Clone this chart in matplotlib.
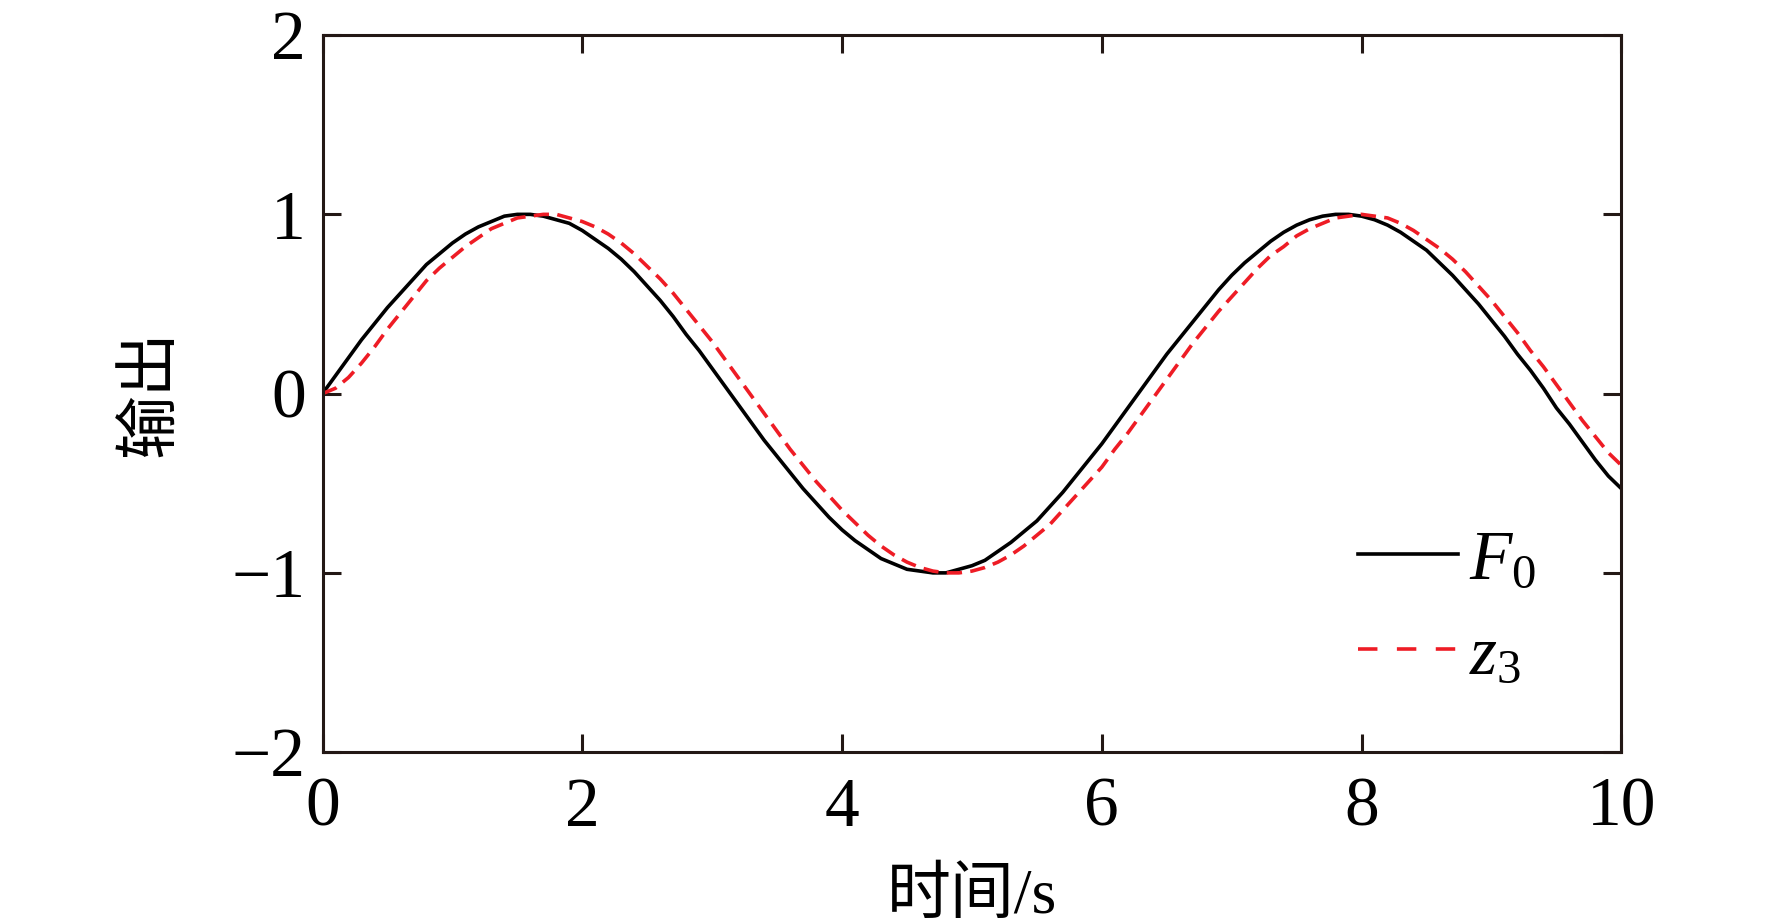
import matplotlib
matplotlib.use("Agg")
import matplotlib.pyplot as plt
import numpy as np

# time axis, values read every 0.1 s from the reference
t = np.round(np.arange(0, 10.001, 0.1), 1)

F0 = [0.00, 0.10, 0.20, 0.30, 0.39, 0.48, 0.56, 0.64, 0.72, 0.78,
      0.84, 0.89, 0.93, 0.96, 0.99, 1.00, 1.00, 0.99, 0.97, 0.95,
      0.91, 0.86, 0.81, 0.75, 0.68, 0.60, 0.52, 0.43, 0.33, 0.24,
      0.14, 0.04, -0.06, -0.16, -0.26, -0.35, -0.44, -0.53, -0.61, -0.69,
      -0.76, -0.82, -0.87, -0.92, -0.95, -0.98, -0.99, -1.00, -1.00, -0.98,
      -0.96, -0.93, -0.88, -0.83, -0.77, -0.71, -0.63, -0.55, -0.46, -0.37,
      -0.28, -0.18, -0.08, 0.02, 0.12, 0.22, 0.31, 0.40, 0.49, 0.58,
      0.66, 0.73, 0.79, 0.85, 0.90, 0.94, 0.97, 0.99, 1.00, 1.00,
      0.99, 0.97, 0.94, 0.90, 0.85, 0.80, 0.73, 0.66, 0.58, 0.50,
      0.41, 0.32, 0.22, 0.13, 0.03, -0.08, -0.17, -0.27, -0.37, -0.46,
      -0.53]

z3 = [0.00, 0.03, 0.09, 0.17, 0.26, 0.36, 0.45, 0.54, 0.63, 0.70,
      0.76, 0.82, 0.87, 0.92, 0.95, 0.98, 0.99, 1.00, 1.00, 0.98,
      0.96, 0.93, 0.89, 0.84, 0.78, 0.71, 0.64, 0.56, 0.47, 0.38,
      0.29, 0.19, 0.09, -0.01, -0.11, -0.21, -0.31, -0.40, -0.49, -0.57,
      -0.65, -0.72, -0.79, -0.85, -0.90, -0.94, -0.97, -0.99, -1.00, -1.00,
      -0.99, -0.97, -0.94, -0.90, -0.85, -0.79, -0.73, -0.65, -0.57, -0.49,
      -0.41, -0.31, -0.22, -0.12, -0.02, 0.08, 0.18, 0.28, 0.37, 0.46,
      0.54, 0.62, 0.70, 0.77, 0.82, 0.88, 0.92, 0.95, 0.98, 0.99,
      1.00, 0.99, 0.98, 0.95, 0.91, 0.86, 0.81, 0.75, 0.68, 0.60,
      0.52, 0.43, 0.34, 0.24, 0.15, 0.05, -0.05, -0.15, -0.24, -0.33,
      -0.40]

xticks = [0, 2, 4, 6, 8, 10]
yticks = [-2, -1, 0, 1, 2]

plt.rcParams['font.family'] = ['Liberation Serif', 'Noto Sans CJK SC']
plt.rcParams['mathtext.fontset'] = 'custom'
plt.rcParams['mathtext.rm'] = 'Liberation Serif'
plt.rcParams['mathtext.it'] = 'Liberation Serif:italic'
plt.rcParams['axes.unicode_minus'] = True
plt.rcParams['lines.scale_dashes'] = False

fontsize = 50
edge = '#231815'

fig = plt.figure(figsize=(17.72, 9.24), dpi=100)
ax = fig.add_axes([0.182, 0.186, 0.733, 0.776])

ax.plot(t, F0, color='black', lw=2.6, label='$F_0$')
ax.plot(t, z3, color='#ee1c25', lw=2.6, dashes=(11, 6), label='$z_3$')

ax.set_xlim(0, 10)
ax.set_ylim(-2, 2)
ax.set_xticks(xticks)
ax.set_yticks(yticks)
ax.tick_params(direction='in', length=13, width=2.2, color=edge,
               labelsize=fontsize, top=True, right=True)
ax.tick_params(axis='x', pad=18)
ax.tick_params(axis='y', pad=12)
for s in ax.spines.values():
    s.set_linewidth(2.2)
    s.set_color(edge)

ax.set_xlabel('时间/s', fontsize=46, labelpad=20)
ax.set_ylabel('输出', fontsize=46, labelpad=36)

leg = ax.legend(loc='upper left', bbox_to_anchor=(0.797, 0.31), frameon=False,
                fontsize=fontsize, handlelength=1.45, handletextpad=0.15,
                labelspacing=0.45, borderpad=0, borderaxespad=0)
leg.get_lines()[1].set_dashes((14, 14))

fig.savefig('out.png', dpi=100)
